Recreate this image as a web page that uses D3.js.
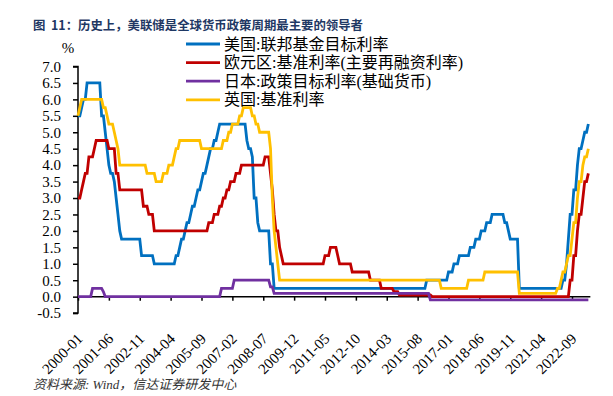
<!DOCTYPE html>
<html>
<head>
<meta charset="utf-8">
<script src="https://cdn.jsdelivr.net/npm/d3@7"></script>
<style>
  body { margin: 0; background: #fff; }
  svg text { font-family: "Liberation Serif", "Noto Sans CJK SC", serif; }
</style>
</head>
<body>
<svg id="chart" width="613" height="396"></svg>
<script>
// rate changes: [first month showing the new rate, rate %]
const usRate = [
  ['2000-01', 5.5], ['2000-03', 5.75], ['2000-04', 6.0], ['2000-06', 6.5], ['2001-02', 5.5],
  ['2001-04', 5.0], ['2001-05', 4.5], ['2001-06', 4.0], ['2001-07', 3.75], ['2001-09', 3.5],
  ['2001-10', 3.0], ['2001-11', 2.5], ['2001-12', 2.0], ['2002-01', 1.75], ['2002-12', 1.25],
  ['2003-07', 1.0], ['2004-07', 1.25], ['2004-09', 1.5], ['2004-10', 1.75], ['2004-12', 2.0],
  ['2005-01', 2.25], ['2005-03', 2.5], ['2005-04', 2.75], ['2005-06', 3.0], ['2005-07', 3.25],
  ['2005-09', 3.5], ['2005-10', 3.75], ['2005-12', 4.0], ['2006-01', 4.25], ['2006-02', 4.5],
  ['2006-04', 4.75], ['2006-06', 5.0], ['2006-07', 5.25], ['2007-10', 4.75], ['2007-11', 4.5],
  ['2008-01', 4.25], ['2008-02', 3.0], ['2008-04', 2.25], ['2008-05', 2.0], ['2008-11', 1.0],
  ['2009-01', 0.25], ['2016-01', 0.5], ['2017-01', 0.75], ['2017-04', 1.0], ['2017-07', 1.25],
  ['2018-01', 1.5], ['2018-04', 1.75], ['2018-07', 2.0], ['2018-10', 2.25], ['2019-01', 2.5],
  ['2019-08', 2.25], ['2019-10', 2.0], ['2019-11', 1.75], ['2020-04', 0.25], ['2022-04', 0.5],
  ['2022-06', 1.0], ['2022-07', 1.75], ['2022-08', 2.5], ['2022-10', 3.25], ['2022-12', 4.0],
  ['2023-01', 4.5], ['2023-03', 4.75], ['2023-04', 5.0], ['2023-06', 5.25]
];
const euRate = [
  ['2000-01', 3.0], ['2000-03', 3.25], ['2000-04', 3.5], ['2000-05', 3.75], ['2000-07', 4.25],
  ['2000-10', 4.5], ['2000-11', 4.75], ['2001-06', 4.5], ['2001-10', 3.75], ['2001-12', 3.25],
  ['2003-01', 2.75], ['2003-04', 2.5], ['2003-07', 2.0], ['2006-01', 2.25], ['2006-04', 2.5],
  ['2006-07', 2.75], ['2006-09', 3.0], ['2006-11', 3.25], ['2007-01', 3.5], ['2007-04', 3.75],
  ['2007-07', 4.0], ['2008-08', 4.25], ['2008-11', 3.75], ['2008-12', 3.25], ['2009-01', 2.5],
  ['2009-02', 2.0], ['2009-04', 1.5], ['2009-05', 1.25], ['2009-06', 1.0], ['2011-05', 1.25],
  ['2011-08', 1.5], ['2011-12', 1.25], ['2012-01', 1.0], ['2012-08', 0.75], ['2013-06', 0.5],
  ['2013-12', 0.25], ['2014-07', 0.15], ['2014-10', 0.05], ['2016-04', 0.0], ['2022-08', 0.5],
  ['2022-10', 1.25], ['2022-12', 2.0], ['2023-01', 2.5], ['2023-03', 3.0], ['2023-04', 3.5],
  ['2023-06', 3.75]
];
const jpRate = [
  ['2000-01', 0.0], ['2000-09', 0.25], ['2001-03', 0.15], ['2001-04', 0.0], ['2006-08', 0.25],
  ['2007-03', 0.5], ['2008-11', 0.3], ['2009-01', 0.1], ['2016-03', -0.1]
];
const ukRate = [
  ['2000-01', 5.5], ['2000-02', 5.75], ['2000-03', 6.0], ['2001-03', 5.75], ['2001-05', 5.5],
  ['2001-06', 5.25], ['2001-09', 5.0], ['2001-10', 4.75], ['2001-11', 4.5], ['2001-12', 4.0],
  ['2003-03', 3.75], ['2003-08', 3.5], ['2003-12', 3.75], ['2004-03', 4.0], ['2004-06', 4.25],
  ['2004-07', 4.5], ['2004-09', 4.75], ['2005-09', 4.5], ['2006-09', 4.75], ['2006-12', 5.0],
  ['2007-02', 5.25], ['2007-06', 5.5], ['2007-08', 5.75], ['2008-01', 5.5], ['2008-03', 5.25],
  ['2008-05', 5.0], ['2008-11', 4.5], ['2008-12', 3.0], ['2009-01', 2.0], ['2009-02', 1.5],
  ['2009-03', 1.0], ['2009-04', 0.5], ['2016-09', 0.25], ['2017-12', 0.5], ['2018-09', 0.75],
  ['2020-04', 0.1], ['2022-01', 0.25], ['2022-03', 0.5], ['2022-04', 0.75], ['2022-06', 1.0],
  ['2022-07', 1.25], ['2022-09', 1.75], ['2022-10', 2.25], ['2022-12', 3.0], ['2023-01', 3.5],
  ['2023-03', 4.0], ['2023-04', 4.25], ['2023-06', 4.5]
];
const lastMonth = '2023-06';
const seriesNames = ['美国:联邦基金目标利率', '欧元区:基准利率(主要再融资利率)', '日本:政策目标利率(基础货币)', '英国:基准利率'];
const seriesColors = ['#0070C0', '#C00000', '#7030A0', '#FFC000'];
const yTicks = [-0.5, 0, 0.5, 1, 1.5, 2, 2.5, 3, 3.5, 4, 4.5, 5, 5.5, 6, 6.5, 7];
const xTickStep = 17;

const monthIndex = s => (+s.slice(0, 4) - 2000) * 12 + (+s.slice(5, 7) - 1);
const monthLabel = i => `${2000 + Math.floor(i / 12)}-${String(i % 12 + 1).padStart(2, '0')}`;
const endIdx = monthIndex(lastMonth);

const svg = d3.select('#chart');

const x = d3.scaleLinear().domain([0, 272]).range([78, 572]);
const y = d3.scaleLinear().domain([-0.5, 7]).range([313.1, 66.5]);

// title
svg.append('text')
  .attr('x', 33).attr('y', 30)
  .style('font-family', '"Noto Sans CJK SC", sans-serif')
  .style('font-size', '12.4px').style('font-weight', 'bold')
  .style('fill', '#1F3864')
  .style('white-space', 'pre')
  .text('图  11：历史上，美联储是全球货币政策周期最主要的领导者');

// monthly points: each decision shows up one month after the previous level
function toPoints(changes) {
  let pts = [];
  changes.forEach((c, i) => {
    let m = monthIndex(c[0]);
    if (i > 0) pts.push([m - 1, changes[i - 1][1]]);
    pts.push([m, c[1]]);
  });
  pts.push([endIdx, changes[changes.length - 1][1]]);
  return pts;
}

// axes
let yAxis = d3.axisLeft(y).tickValues(yTicks).tickSize(5).tickPadding(12).tickFormat(d => d.toFixed(1));
let gy = svg.append('g').attr('transform', `translate(${x(0)},0)`).call(yAxis);
gy.select('.domain').attr('d', `M-5,${y(-0.5)}H0V${y(7)}H-5`);

let xAxis = d3.axisBottom(x).tickValues(d3.range(0, 273, xTickStep)).tickSize(4).tickFormat(monthLabel);
let gx = svg.append('g').attr('transform', `translate(0,${y(0)})`).call(xAxis);
gx.select('.domain').attr('d', `M${x(0)},0H${x(endIdx) + 2}`);
gx.selectAll('.tick text')
  .attr('y', 0).attr('dy', 0)
  .attr('transform', 'translate(5,43) rotate(-45)')
  .style('text-anchor', 'end');

[gx, gy].forEach(g => {
  g.selectAll('.domain, .tick line').attr('stroke', '#000').attr('stroke-width', 1.5);
  g.selectAll('.tick text').style('font-size', '15px').style('fill', '#000')
    .style('font-family', '"Liberation Serif", serif');
});

svg.append('text')
  .attr('x', 68).attr('y', 53)
  .style('font-size', '15px').style('text-anchor', 'middle')
  .text('%');

// lines
let line = d3.line().x(d => x(d[0])).y(d => y(d[1]));
[usRate, euRate, jpRate, ukRate].forEach((s, i) => {
  svg.append('path')
    .attr('d', line(toPoints(s)))
    .attr('fill', 'none')
    .attr('stroke', seriesColors[i])
    .attr('stroke-width', 2.8);
});

// legend
let legend = svg.append('g').attr('transform', 'translate(186,44)');
seriesNames.forEach((n, i) => {
  let g = legend.append('g').attr('transform', `translate(0,${i * 18.6})`);
  g.append('line').attr('x1', 0).attr('x2', 34).attr('y1', 0).attr('y2', 0)
    .attr('stroke', seriesColors[i]).attr('stroke-width', 2.8);
  g.append('text').attr('x', 38).attr('y', 5.5)
    .style('font-size', '16px').style('fill', '#000')
    .text(n);
});

// source
svg.append('text')
  .attr('x', 33).attr('y', 389)
  .style('font-size', '13px').style('font-style', 'italic')
  .style('fill', '#333')
  .text('资料来源: Wind，信达证券研发中心');
</script>
</body>
</html>
